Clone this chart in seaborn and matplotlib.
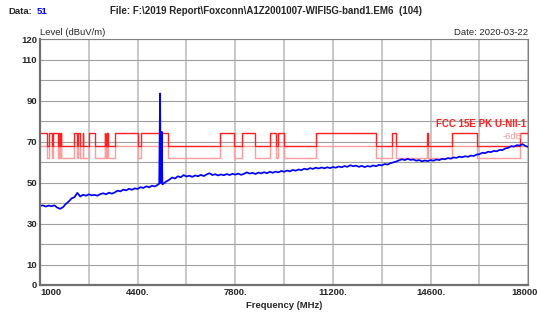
import numpy as np
import pandas as pd
import matplotlib
matplotlib.use("Agg")
import matplotlib.pyplot as plt
import seaborn as sns

# ---------------------------- DATA ---------------------------------

FREQ_MHZ = [
    1000, 1100, 1200, 1300, 1400, 1500, 1600, 1700, 1800, 1900,
    2000, 2100, 2200, 2300, 2400, 2500, 2600, 2700, 2800, 2900,
    3000, 3100, 3200, 3300, 3400, 3500, 3600, 3700, 3800, 3900,
    4000, 4100, 4200, 4300, 4400, 4500, 4600, 4700, 4800, 4900,
    5000, 5100, 5150, 5180, 5200, 5240, 5260, 5300, 5400, 5500,
    5600, 5700, 5800, 5900, 6000, 6100, 6200, 6300, 6400, 6500,
    6600, 6700, 6800, 6900, 7000, 7100, 7200, 7300, 7400, 7500,
    7600, 7700, 7800, 7900, 8000, 8100, 8200, 8300, 8400, 8500,
    8600, 8700, 8800, 8900, 9000, 9100, 9200, 9300, 9400, 9500,
    9600, 9700, 9800, 9900, 10000, 10100, 10200, 10300, 10400, 10500,
    10600, 10700, 10800, 10900, 11000, 11100, 11200, 11300, 11400, 11500,
    11600, 11700, 11800, 11900, 12000, 12100, 12200, 12300, 12400, 12500,
    12600, 12700, 12800, 12900, 13000, 13100, 13200, 13300, 13400, 13500,
    13600, 13700, 13800, 13900, 14000, 14100, 14200, 14300, 14400, 14500,
    14600, 14700, 14800, 14900, 15000, 15100, 15200, 15300, 15400, 15500,
    15600, 15700, 15800, 15900, 16000, 16100, 16200, 16300, 16400, 16500,
    16600, 16700, 16800, 16900, 17000, 17100, 17200, 17300, 17400, 17500,
    17600, 17700, 17800, 17900, 18000,
]

LEVEL_DBUV = [
    38.6, 38.9, 38.3, 38.8, 38.5, 38.9, 37.8, 37.2, 38.0, 39.6,
    40.8, 42.3, 42.9, 45.0, 43.2, 44.1, 43.6, 44.3, 43.8, 44.0,
    43.6, 44.4, 44.8, 44.3, 45.1, 44.6, 45.2, 46.1, 45.7, 46.6,
    46.2, 47.0, 46.5, 47.2, 46.9, 47.8, 47.4, 48.2, 47.7, 48.5,
    48.1, 49.0, 49.4, 93.5, 49.8, 74.8, 49.2, 49.5, 50.6, 51.4,
    52.5, 52.0, 53.1, 52.6, 53.7, 53.0, 53.4, 52.8, 53.5, 53.1,
    53.8, 53.2, 54.0, 54.6, 53.7, 54.1, 53.5, 54.0, 53.6, 54.2,
    53.7, 54.3, 53.9, 54.4, 53.8, 54.3, 55.0, 54.4, 54.8, 54.2,
    54.9, 54.5, 55.1, 54.6, 55.3, 54.8, 55.4, 55.0, 55.7, 55.3,
    55.9, 55.5, 56.2, 55.8, 56.4, 56.1, 56.8, 56.4, 57.1, 56.7,
    57.3, 56.9, 57.4, 57.0, 57.5, 57.1, 57.6, 57.3, 57.9, 57.5,
    58.1, 57.7, 58.5, 58.0, 58.3, 57.7, 58.2, 57.6, 58.1, 57.8,
    58.4, 58.0, 58.7, 58.4, 59.1, 58.8, 59.5, 59.9, 60.3, 60.9,
    61.4, 61.0, 61.6, 61.1, 61.3, 60.7, 61.0, 60.4, 60.8, 60.5,
    61.0, 60.7, 61.3, 61.0, 61.6, 61.4, 62.0, 61.7, 62.3, 62.1,
    62.7, 62.4, 62.9, 62.6, 63.2, 63.0, 63.7, 63.9, 64.6, 64.4,
    65.1, 64.9, 65.5, 65.3, 66.0, 65.9, 66.7, 67.0, 67.8, 67.6,
    68.3, 68.1, 68.8, 67.9, 67.4,
]

# restricted bands (MHz) where the limit is 74 dBuV/m, else 68
BAND_START = [1000, 1300, 1435, 1645.5, 1660, 1718.8, 2200, 2310, 2483.5, 2690,
              3260, 3332, 3345.8, 3600, 4500, 7250, 8025, 9000, 9300, 10600,
              13250, 14470, 15350, 17700]
BAND_STOP = [1240, 1427, 1626.5, 1646.5, 1710, 1722.2, 2300, 2390, 2500, 2900,
             3267, 3339, 3358, 4400, 5460, 7750, 8500, 9200, 9500, 12700,
             13400, 14500, 16200, 18000]
LIMIT_HIGH = 74
LIMIT_LOW = 68
MARGIN_DB = 6

X_TICKS = [1000, 4400, 7800, 11200, 14600, 18000]
X_TICK_LABELS = ["1000", "4400.", "7800.", "11200.", "14600.", "18000"]
X_MINOR = [2700, 6100, 9500, 12900, 16300]
Y_TICKS = [0, 10, 20, 30, 40, 50, 60, 70, 80, 90, 100, 110, 120]
Y_TICK_LABELS = ["0", "10", "", "30", "", "50", "", "70", "", "90", "", "110", "120"]


def build_limit():
    f, lv = [], []
    for s, e in zip(BAND_START, BAND_STOP):
        f += [s, e]
        lv += [LIMIT_HIGH, LIMIT_LOW]
    lv[-1] = LIMIT_HIGH
    return pd.DataFrame({"freq": f, "level": lv})


def main():
    sns.set_style("white")
    plt.rcParams["font.family"] = ["Liberation Sans", "DejaVu Sans"]

    trace = pd.DataFrame({"freq": FREQ_MHZ, "level": LEVEL_DBUV})
    limit = build_limit()
    margin = limit.assign(level=limit["level"] - MARGIN_DB)

    fig = plt.figure(figsize=(5.37, 3.18), dpi=100)
    ax = fig.add_axes([0.0745, 0.1038, 0.9093, 0.7726])

    ax.set_xlim(1000, 18000)
    ax.set_ylim(0, 120)

    # last x label is drawn separately so it can sit slightly inside the canvas
    ax.set_xticks(X_TICKS)
    ax.set_xticks(X_MINOR, minor=True)
    ax.set_xticklabels(X_TICK_LABELS[:-1] + [""], fontsize=6.8, fontweight="bold")
    ax.get_xticklabels()[0].set_horizontalalignment("left")
    ax.annotate(X_TICK_LABELS[-1], xy=(X_TICKS[-1], 0),
                xycoords=("data", "axes fraction"), xytext=(-3, -2),
                textcoords="offset points", ha="center", va="top",
                fontsize=6.8, fontweight="bold", annotation_clip=False)
    ax.set_yticks(Y_TICKS)
    ax.set_yticklabels(Y_TICK_LABELS, fontsize=6.8, fontweight="bold")
    ax.tick_params(axis="both", which="both", length=0, pad=2)

    ax.grid(axis="x", which="both", color="#c8c8c8", lw=1.4)
    ax.grid(axis="y", which="major", color="#a0a0a0", lw=0.8)
    ax.set_axisbelow(True)

    sns.lineplot(data=margin, x="freq", y="level", ax=ax, color="#ff9c9c",
                 lw=1.0, drawstyle="steps-post", estimator=None, sort=False)
    sns.lineplot(data=limit, x="freq", y="level", ax=ax, color="#ff2020",
                 lw=1.0, drawstyle="steps-post", estimator=None, sort=False)
    sns.lineplot(data=trace, x="freq", y="level", ax=ax, color="#0000ff",
                 lw=1.25, estimator=None, sort=False)

    for side in ["top", "right"]:
        ax.spines[side].set_color("#808080")
        ax.spines[side].set_linewidth(0.8)
    for side in ["left", "bottom"]:
        ax.spines[side].set_color("#707070")
        ax.spines[side].set_linewidth(1.6)

    ax.set_xlabel("Frequency (MHz)", fontsize=6.8, fontweight="bold", labelpad=3)
    ax.set_ylabel("")

    ax.text(0.0, 1.01, "Level (dBuV/m)", transform=ax.transAxes, fontsize=6.8,
            ha="left", va="bottom")
    ax.text(1.0, 1.01, "Date: 2020-03-22", transform=ax.transAxes, fontsize=6.8,
            ha="right", va="bottom")
    ax.text(0.995, 0.635, "FCC 15E PK U-NII-1", transform=ax.transAxes,
            fontsize=7, fontweight="bold", color="#ff2020", ha="right", va="bottom")
    ax.text(0.988, 0.585, "-6dB", transform=ax.transAxes,
            fontsize=6.8, color="#ff9c9c", ha="right", va="bottom")

    fig.text(0.015, 0.965, "Data:", fontsize=6.8, fontweight="bold", ha="left", va="center")
    fig.text(0.069, 0.965, "51", fontsize=6.8, fontweight="bold", color="#0000ff",
             ha="left", va="center")
    fig.text(0.205, 0.965,
             "File: F:\\2019 Report\\Foxconn\\A1Z2001007-WIFI5G-band1.EM6  (104)",
             fontsize=7, fontweight="bold", ha="left", va="center")

    fig.savefig("out.png", dpi=100)
    plt.close(fig)


if __name__ == "__main__":
    main()
